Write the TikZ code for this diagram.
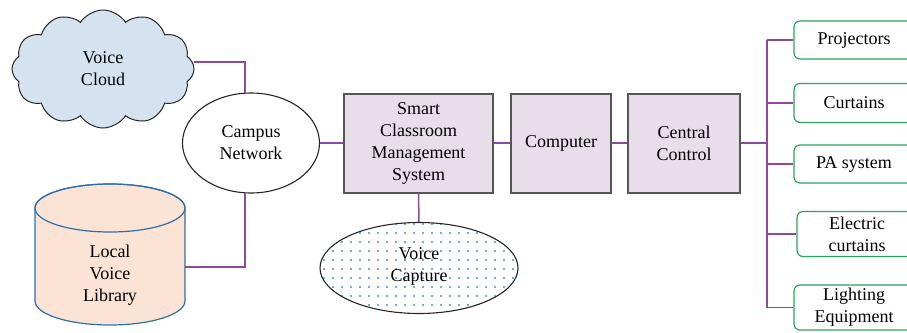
\documentclass[tikz,border=0pt]{standalone}
\usepackage{fontspec}
\setmainfont{Liberation Serif}
\usetikzlibrary{shapes.symbols,shapes.geometric,patterns.meta}
\definecolor{conncol}{HTML}{8B4A9C}
\definecolor{boxfill}{HTML}{E8DEEA}
\definecolor{boxdraw}{HTML}{555555}
\definecolor{cloudfill}{HTML}{D5E3F0}
\definecolor{cylfill}{HTML}{FBE4D5}
\definecolor{cyldraw}{HTML}{2F6FA8}
\definecolor{devdraw}{HTML}{2AA55A}
\definecolor{dotcol}{HTML}{3A8FD8}
\begin{document}
\begin{tikzpicture}[x=1pt,y=-1pt, font=\fontsize{18}{22}\selectfont,
 conn/.style={draw=conncol, line width=1.5pt},
 proc/.style={draw=boxdraw, fill=boxfill, line width=1.3pt, align=center, inner sep=0, minimum height=99pt},
 dev/.style={draw=devdraw, line width=1.2pt, rounded corners=6pt, minimum width=120pt, align=center, inner sep=0}]
\useasboundingbox (0,0) rectangle (907,332);
\clip (0,0) rectangle (907,332);

% cloud
\node[cloud, cloud puffs=12, cloud puff arc=115, cloud ignores aspect, draw=black!85, fill=cloudfill,
      minimum width=182pt, minimum height=118pt, inner sep=0, align=center, line width=1pt] (cloud) at (103,69) {Voice\\Cloud};

% campus network
\node[ellipse, draw=black!85, line width=1.1pt, minimum width=137pt, minimum height=100pt, inner sep=0, align=center] (net) at (251,143) {Campus\\Network};

% cylinder
\draw[draw=cyldraw, fill=cylfill, line width=1.2pt] (35,208) -- (35,301) arc[start angle=180, end angle=0, x radius=75, y radius=24] -- (185,208) arc[start angle=0, end angle=-180, x radius=75, y radius=24] -- cycle;
\draw[draw=cyldraw, line width=1.2pt] (110,208) ellipse [x radius=75, y radius=24];
\node[align=center, inner sep=0] (lib) at (110,275) {Local\\Voice\\Library};

% main boxes
\node[proc, minimum width=149pt] (scms) at (418.5,143.5) {Smart\\Classroom\\Management\\System};
\node[proc, minimum width=100pt] (comp) at (561,143.5) {Computer};
\node[proc, minimum width=112pt] (cc) at (684,143.5) {Central\\Control};

% voice capture
\node[ellipse, draw=black!85, line width=1.1pt, pattern={Dots[distance=9pt, radius=1.2pt]}, pattern color=dotcol,
      minimum width=198pt, minimum height=91pt, inner sep=0, align=center] (cap) at (419,268) {};
\node[align=center, inner sep=0] (captxt) at (419,266) {Voice\\Capture};

% devices
\node[dev, minimum height=38pt] (proj) at (854,40) {Projectors};
\node[dev, minimum height=39pt] (curt) at (854,103) {Curtains};
\node[dev, minimum height=38pt] (pa) at (854,164) {PA system};
\node[dev, minimum height=45pt] (elec) at (857,234) {Electric\\curtains};
\node[dev, minimum height=45pt] (light) at (854,307.5) {Lighting\\Equipment};

% connectors
\coordinate (cl) at (194,62);
\coordinate (libc) at (185,267);
\coordinate (bus) at (767,143);
\draw[conn] (cl) -| (net.97);
\draw[conn] (libc) -| (net.263);
\draw[conn] (net.east) -- (scms.west |- net.east);
\draw[conn] (scms.east |- bus) -- (comp.west |- bus);
\draw[conn] (comp.east |- bus) -- (cc.west |- bus);
\draw[conn] (scms.south) -- (cap.north);
\draw[conn] (cc.east |- bus) -- (bus);
\draw[conn] (proj.west -| bus) -- (light.west -| bus);
\foreach \d in {proj,curt,pa,elec,light}
  \draw[conn] (\d.west) -- (\d.west -| bus);
\end{tikzpicture}
\end{document}
